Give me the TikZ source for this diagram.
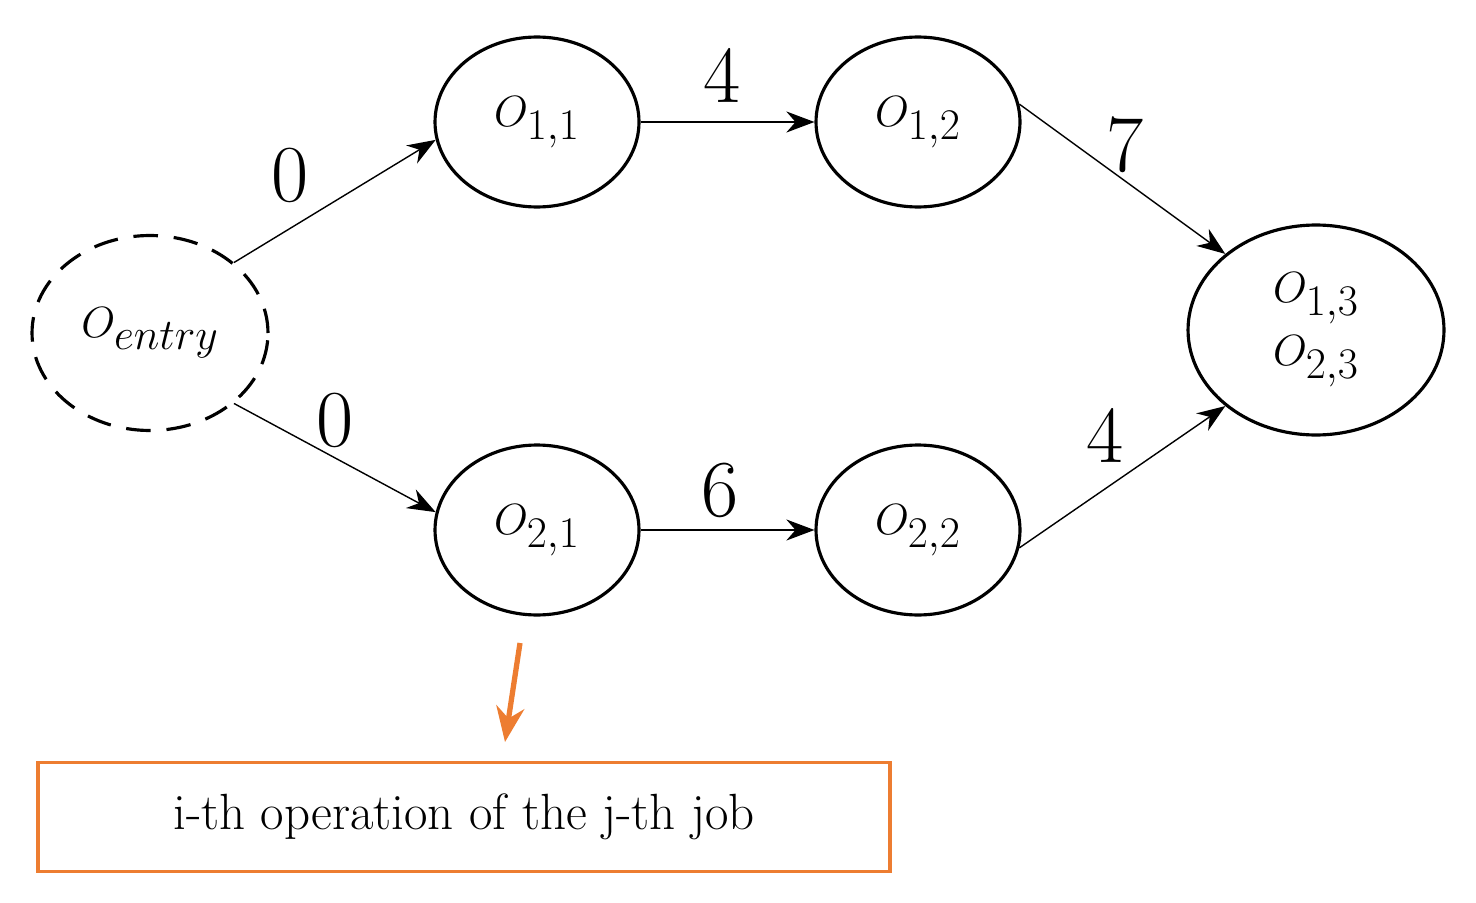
\documentclass[tikz,border=0pt]{standalone}
\usetikzlibrary{arrows.meta,shapes.geometric}
\begin{document}
\begin{tikzpicture}[x=0.02cm,y=-0.02cm,
  op/.style={draw,line width=1.8pt,ellipse,minimum width=4.08cm,minimum height=3.4cm,inner sep=0pt,font=\fontsize{36}{40}\selectfont},
  e/.style={-{Stealth[length=16pt,width=12pt]},line width=0.8pt},
  lab/.style={font=\fontsize{46}{50}\selectfont}]
\useasboundingbox (0,0) rectangle (1476,902);
\node[draw,dash pattern=on 14pt off 9pt,line width=1.8pt,ellipse,minimum width=4.72cm,minimum height=3.9cm,inner sep=0pt,font=\fontsize{36}{40}\selectfont] (en) at (150,333) {$O_{entry}$};
\node[op] (a) at (537,122) {$O_{1,1}$};
\node[op] (b) at (918,122) {$O_{1,2}$};
\node[op] (c) at (537,530) {$O_{2,1}$};
\node[op] (d) at (918,530) {$O_{2,2}$};
\node[op,minimum width=5.12cm,minimum height=4.2cm,align=center] (f) at (1316,330) {$O_{1,3}$\\[-4pt]$O_{2,3}$};
\draw[e] (en.40) -- (a.190);
\draw[e] (en.-40) -- (c.170);
\draw[e] (a) -- (b);
\draw[e] (c) -- (d);
\draw[e] (b.10) -- (f.140);
\draw[e] (d.-10) -- (f.-140);
\node[lab] (l1) at (290,175) {0};
\node[lab] (l2) at (335,420) {0};
\node[lab] (l3) at (722,75) {4};
\node[lab] (l4) at (720,490) {6};
\node[lab] (l5) at (1125,145) {7};
\node[lab] (l6) at (1105,435) {4};
\definecolor{org}{RGB}{237,125,49}
\node[draw=org,line width=2.2pt,minimum width=17.04cm,minimum height=2.18cm,font=\fontsize{29}{32}\selectfont] (box) at (464,817) {i-th operation of the j-th job};
\coordinate (s) at (520,643);
\coordinate (t) at (505,742);
\draw[org,line width=3pt,-{Stealth[length=20pt,width=16pt]}] (s) -- (t);
\end{tikzpicture}
\end{document}
